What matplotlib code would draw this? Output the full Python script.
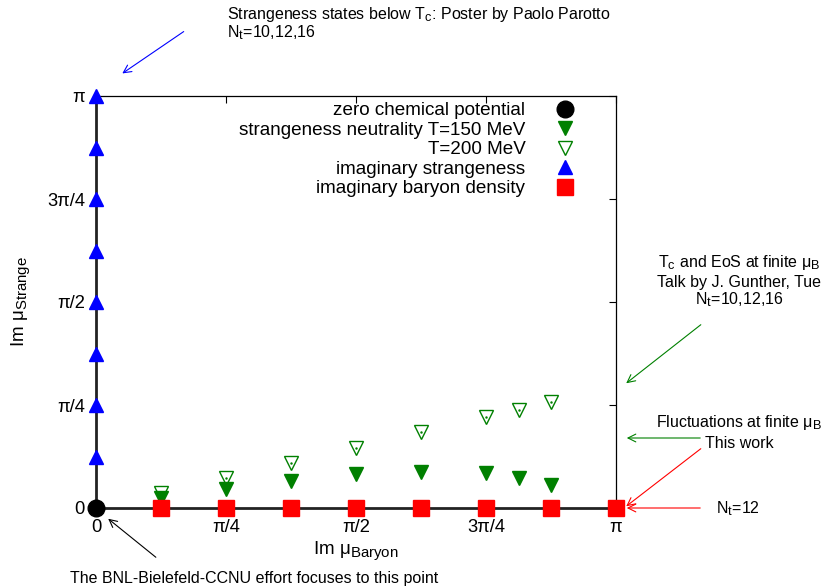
import numpy as np
import matplotlib
matplotlib.use("Agg")
import matplotlib.pyplot as plt
import matplotlib._mathtext as mathtext_internal

plt.rcParams["font.family"] = ["Liberation Sans", "DejaVu Sans"]
plt.rcParams["mathtext.fontset"] = "custom"
plt.rcParams["mathtext.rm"] = "Liberation Sans"
plt.rcParams["mathtext.it"] = "Liberation Sans:italic"
# gnuplot-like bigger subscripts
mathtext_internal.SHRINK_FACTOR = 0.8

pi = np.pi

# zero chemical potential
zero_x = [0.0]
zero_y = [0.0]

# imaginary strangeness (mu_B = 0)
strange_y = [k * pi / 8 for k in range(1, 9)]
strange_x = [0.0] * len(strange_y)

# imaginary baryon density (mu_S = 0)
baryon_x = [k * pi / 8 for k in range(1, 9)]
baryon_y = [0.0] * len(baryon_x)

# strangeness neutrality
sn_x = [pi/8, pi/4, 3*pi/8, pi/2, 5*pi/8, 3*pi/4, 13*pi/16, 7*pi/8]
sn150_y = [0.075, 0.144, 0.209, 0.261, 0.275, 0.269, 0.226, 0.173]
sn200_y = [0.116, 0.226, 0.344, 0.461, 0.582, 0.695, 0.749, 0.807]

tick_vals = [0, pi/4, pi/2, 3*pi/4, pi]
tick_labels = ["0", "π/4", "π/2", "3π/4", "π"]

W, H = 823, 587
fig = plt.figure(figsize=(W/100, H/100), dpi=100)
ax = fig.add_axes([96/W, 1-508/H, (616-96)/W, (508-96)/H])


def px(x, y):
    # figure pixel (from top-left) -> figure fraction
    return (x / W, 1 - y / H)


ax.plot(zero_x, zero_y, "o", color="black", ms=12, clip_on=False, zorder=6,
        label="zero chemical potential")
ax.plot(sn_x, sn150_y, "v", color="green", ms=9.8, clip_on=False, zorder=5,
        label="strangeness neutrality T=150 MeV")
ax.plot(sn_x, sn200_y, "v", mfc="none", mec="green", mew=1.0, ms=9.8,
        clip_on=False, zorder=5, label="T=200 MeV")
ax.plot(sn_x, sn200_y, ".", color="green", ms=1.5, zorder=5)
ax.plot(strange_x, strange_y, "^", color="blue", ms=10, clip_on=False,
        zorder=5, label="imaginary strangeness")
ax.plot(baryon_x, baryon_y, "s", color="red", ms=11.5, clip_on=False,
        zorder=5, label="imaginary baryon density")

ax.set_xlim(0, pi)
ax.set_ylim(0, pi)
ax.set_xticks(tick_vals)
ax.set_xticklabels(tick_labels)
ax.set_yticks(tick_vals)
ax.set_yticklabels(tick_labels)
ax.tick_params(direction="in", top=True, right=True, left=False, bottom=False,
               length=5, width=0.8, labelsize=13.2)
ax.tick_params(axis="y", pad=8)
ax.tick_params(axis="x", pad=8)
for s in ["left", "bottom"]:
    ax.spines[s].set_linewidth(2)
    ax.spines[s].set_color("#222222")
for s in ["top", "right"]:
    ax.spines[s].set_linewidth(0.9)

ax.set_xlabel("Im μ$_\\mathrm{Baryon}$", fontsize=13.5, labelpad=2)
ax.set_ylabel("Im μ$_\\mathrm{Strange}$", fontsize=13.5, labelpad=11)

handles, labels = ax.get_legend_handles_labels()
ax.legend(handles, labels, loc="upper right", markerfirst=False,
          frameon=False, fontsize=13.6, borderpad=0, borderaxespad=0,
          handletextpad=1.1, labelspacing=0.12, handlelength=2.0,
          bbox_to_anchor=px(584, 102), bbox_transform=fig.transFigure)

fs = 11.5
arrow_kw = dict(arrowstyle="->", lw=0.8, mutation_scale=14)

# top-left: strangeness states
fig.text(*px(227, 14), "Strangeness states below T$_\\mathrm{c}$: Poster by Paolo Parotto",
         fontsize=fs, va="center", ha="left")
fig.text(*px(227, 33), "N$_\\mathrm{t}$=10,12,16", fontsize=fs, va="center", ha="left")
ax.annotate("", xy=px(120, 75), xycoords="figure fraction",
            xytext=px(186, 30), textcoords="figure fraction",
            arrowprops=dict(color="blue", **arrow_kw))

# right: Tc and EoS
fig.text(*px(739, 262), "T$_\\mathrm{c}$ and EoS at finite μ$_\\mathrm{B}$",
         fontsize=fs, va="center", ha="center")
fig.text(*px(739, 283), "Talk by J. Gunther, Tue", fontsize=fs, va="center", ha="center")
fig.text(*px(739, 300), "N$_\\mathrm{t}$=10,12,16", fontsize=fs, va="center", ha="center")
ax.annotate("", xy=px(624, 385), xycoords="figure fraction",
            xytext=px(703, 323), textcoords="figure fraction",
            arrowprops=dict(color="green", **arrow_kw))

# right: fluctuations
fig.text(*px(739, 423), "Fluctuations at finite μ$_\\mathrm{B}$",
         fontsize=fs, va="center", ha="center")
fig.text(*px(739, 443), "This work", fontsize=fs, va="center", ha="center")
ax.annotate("", xy=px(624, 438), xycoords="figure fraction",
            xytext=px(703, 438), textcoords="figure fraction",
            arrowprops=dict(color="green", **arrow_kw))
ax.annotate("", xy=px(624, 508), xycoords="figure fraction",
            xytext=px(703, 447), textcoords="figure fraction",
            arrowprops=dict(color="red", **arrow_kw))
ax.annotate("", xy=px(624, 508), xycoords="figure fraction",
            xytext=px(703, 508), textcoords="figure fraction",
            arrowprops=dict(color="red", **arrow_kw))
fig.text(*px(738, 509), "N$_\\mathrm{t}$=12", fontsize=fs, va="center", ha="center")

# bottom: BNL-Bielefeld-CCNU
ax.annotate("", xy=px(106, 517), xycoords="figure fraction",
            xytext=px(158, 559), textcoords="figure fraction",
            arrowprops=dict(color="black", **arrow_kw))
fig.text(*px(254, 578), "The BNL-Bielefeld-CCNU effort focuses to this point",
         fontsize=fs, va="center", ha="center")

fig.savefig("out.png", dpi=100)
